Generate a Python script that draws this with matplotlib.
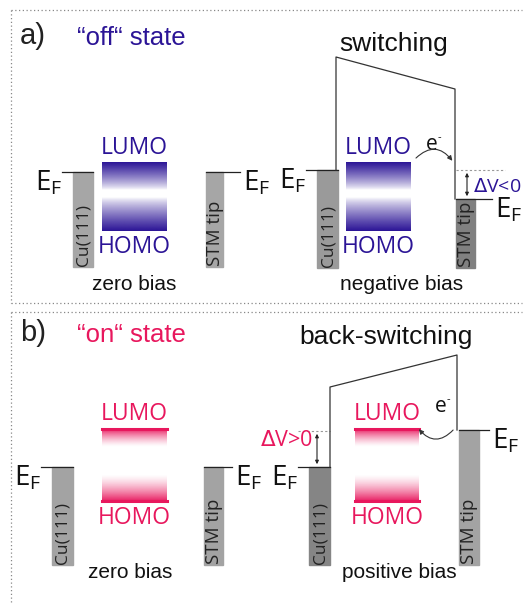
import numpy as np
import matplotlib.pyplot as plt
from matplotlib.patches import Rectangle, FancyArrowPatch
from matplotlib.colors import to_rgb

# schematic layout, in picture pixels (y grows downward)
blue = "#2b1496"
pink = "#e8175d"

panel_labels = ["a)", "b)"]
state_labels = ['\u201coff\u201c state', '\u201con\u201c state']
state_colors = [blue, pink]
process_labels = ["switching", "back-switching"]
bias_labels = ["zero bias", "negative bias", "zero bias", "positive bias"]

# Fermi levels: (Cu sample, STM tip) for each of the four diagrams
ef_sample = [172, 170, 467, 467]
ef_tip = [172, 199, 467, 430]
bar_bottom = [267, 268, 565, 565]
# x ranges: Cu bar, molecule box, tip bar
cu_x = [(73, 93), (317, 338), (52, 73), (309, 330)]
box_x = [(102, 167), (346, 411), (102, 167), (355, 419)]
tip_x = [(206, 223), (456, 475), (204, 223), (459, 479)]
tip_line_end = [240, 492, 232, 489]
cu_gray = ["#a6a6a6", "#9a9a9a", "#a3a3a3", "#858585"]
tip_gray = ["#a6a6a6", "#808080", "#a3a3a3", "#a3a3a3"]
# orbital bands: (lumo top, lumo fade end, homo fade start, homo bottom)
bands = [(162, 190, 197, 231), (162, 190, 197, 231),
         (428, 447, 474, 502), (428, 447, 474, 502)]
# tunnel barrier corners (left top, right top)
barrier = [None, ((336, 57), (455, 89)), None, ((330, 387), (457, 355))]

fig = plt.figure(figsize=(5.24, 6.05), dpi=100)
ax = fig.add_axes([0, 0, 1, 1])
ax.set_xlim(0, 524)
ax.set_ylim(605, 0)
ax.axis("off")

sans = "Liberation Sans"
cal = "Open Sans"

# dotted panel frames
dot = dict(color="#888888", lw=0.9, ls=(0, (1, 2)))
ax.plot([11, 522], [10, 10], **dot)
ax.plot([11, 11], [10, 303], **dot)
ax.plot([11, 522], [303, 303], **dot)
ax.plot([11, 522], [312, 312], **dot)
ax.plot([11, 11], [312, 603], **dot)

for p in range(2):
    y0 = [36, 333][p]
    ax.text(20, y0, panel_labels[p], fontsize=21, family=sans, va="center", color="#222222")
    ax.text(77, y0 + 2, state_labels[p], fontsize=18.5, family=sans, va="center",
            color=state_colors[p])
    ax.text([394, 386][p], [44, 337][p], process_labels[p], fontsize=19, family=sans,
            ha="center", va="center", color="#111111")


def band(x0, x1, ya, yb, color, dark_at_top, gamma):
    rgb = np.array(to_rgb(color))
    ramp = np.linspace(1, 0, 64) if dark_at_top else np.linspace(0, 1, 64)
    img = np.ones((64, 2, 4))
    img[..., :3] = rgb
    img[..., 3] = ramp[:, None] ** gamma
    ax.imshow(img, extent=(x0, x1, yb, ya), aspect="auto", interpolation="bilinear", zorder=2)


def ef_label(x, y, ha):
    ax.text(x, y, r"E$_\mathregular{F}$", fontsize=20, family=cal, ha=ha, va="center",
            color="#111111")


for d in range(4):
    col = state_colors[d // 2]
    # metal bars
    c0, c1 = cu_x[d]
    t0, t1 = tip_x[d]
    ax.add_patch(Rectangle((c0, ef_sample[d]), c1 - c0, bar_bottom[d] - ef_sample[d],
                           color=cu_gray[d], zorder=2))
    ax.add_patch(Rectangle((t0, ef_tip[d]), t1 - t0, bar_bottom[d] - ef_tip[d],
                           color=tip_gray[d], zorder=2))
    ax.text((c0 + c1) / 2 + 0.5, bar_bottom[d] - 1, "Cu(111)", rotation=90, fontsize=12.5,
            family=cal, ha="center", va="bottom", color="#222222", zorder=3)
    ax.text((t0 + t1) / 2 + 0.5, bar_bottom[d] - 1, "STM tip", rotation=90, fontsize=13.5,
            family=cal, ha="center", va="bottom", color="#222222", zorder=3)
    # Fermi level ticks
    ax.plot([c0 - 11, c1], [ef_sample[d]] * 2, color="#222222", lw=0.9, zorder=3)
    ax.plot([t0, tip_line_end[d]], [ef_tip[d]] * 2, color="#222222", lw=0.9, zorder=3)
    ef_label(c0 - 11, ef_sample[d] + 11, "right")
    ef_label(tip_line_end[d] + 3, ef_tip[d] + 11, "left")
    # molecular orbitals
    b0, b1 = box_x[d]
    lt, le, hs, hb = bands[d]
    g = 0.8 if d < 2 else 1.4
    band(b0, b1, lt, le, col, True, g)
    band(b0, b1, hs, hb, col, False, g)
    if d >= 2:
        ax.plot([b0, b1], [lt + 1, lt + 1], color=col, lw=2.2, zorder=3)
        ax.plot([b0, b1], [hb - 1, hb - 1], color=col, lw=2.2, zorder=3)
    bc = (b0 + b1) / 2
    ax.text(bc, lt - 14, "LUMO", fontsize=16.5, family=cal, ha="center", va="center", color=col)
    ax.text(bc, hb + 16, "HOMO", fontsize=16.5, family=cal, ha="center", va="center", color=col)
    ax.text([134, 402, 130, 399][d], [284, 284, 572, 573][d], bias_labels[d], fontsize=15,
            family=sans, ha="center", va="center", color="#111111")
    # tunnel barrier
    if barrier[d] is not None:
        (lx, ly), (rx, ry) = barrier[d]
        ax.plot([lx, lx, rx, rx], [ef_sample[d], ly, ry, ef_tip[d]],
                color="#333333", lw=0.9, zorder=3)

# electron hops and bias arrows
ax.add_patch(FancyArrowPatch((414, 160), (454, 163), connectionstyle="arc3,rad=-0.6",
                             arrowstyle="-|>", mutation_scale=7, lw=0.8, color="#333333", zorder=4))
ax.text(432, 145, "e", fontsize=15, family=cal, ha="center", va="center", color="#111111")
ax.text(438, 138, "-", fontsize=8, family=cal, ha="left", va="center", color="#111111")
ax.add_patch(FancyArrowPatch((455, 428), (417, 427), connectionstyle="arc3,rad=-0.6",
                             arrowstyle="-|>", mutation_scale=7, lw=0.8, color="#333333", zorder=4))
ax.text(441, 407, "e", fontsize=15, family=cal, ha="center", va="center", color="#111111")
ax.text(447, 400, "-", fontsize=8, family=cal, ha="left", va="center", color="#111111")

ax.plot([456, 505], [170, 170], color="#999999", lw=0.8, ls=(0, (2, 2)))
ax.annotate("", xy=(467, 199), xytext=(467, 170),
            arrowprops=dict(arrowstyle="<|-|>", mutation_scale=5, lw=0.8, color="#222222"))
ax.text(473, 187, r"$\Delta$V<0", fontsize=14, family=cal, va="center", color=blue)

ax.plot([298, 330], [431, 431], color="#999999", lw=0.8, ls=(0, (2, 2)))
ax.annotate("", xy=(317, 467), xytext=(317, 431),
            arrowprops=dict(arrowstyle="<|-|>", mutation_scale=5, lw=0.8, color="#222222"))
ax.text(313, 441, r"$\Delta$V>0", fontsize=15.5, family=cal, ha="right", va="center", color=pink)

fig.savefig("out.png", dpi=100, facecolor="white")
